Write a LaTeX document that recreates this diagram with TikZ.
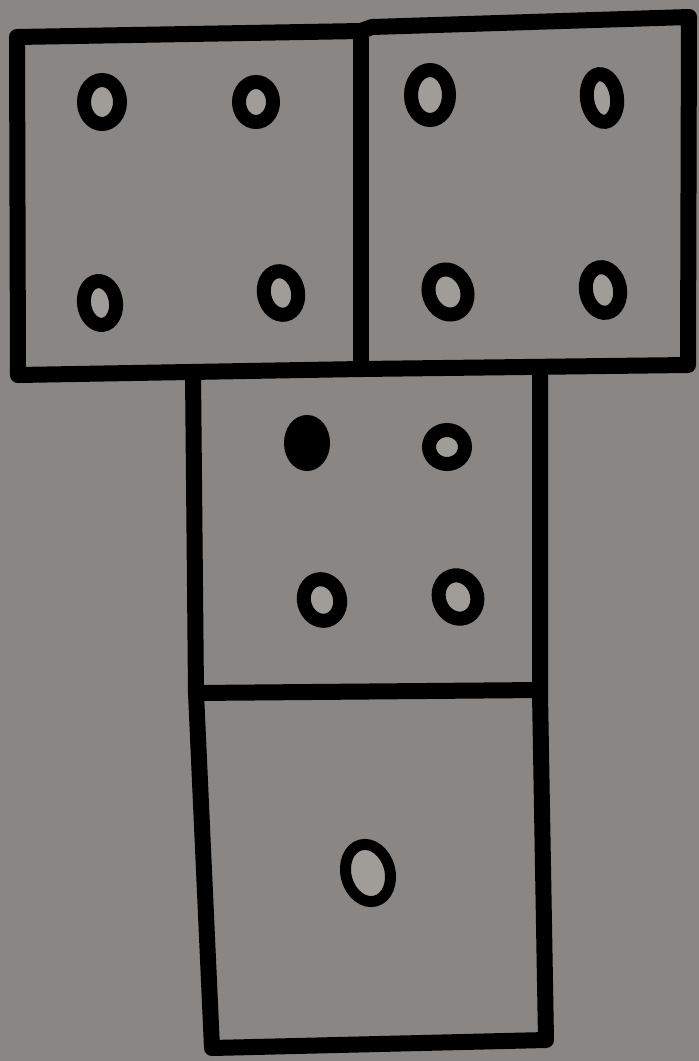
\documentclass[tikz,border=0pt]{standalone}
\usetikzlibrary{calc}
\definecolor{paper}{RGB}{137,134,131}
\definecolor{dotin}{RGB}{160,156,152}
\tikzset{
  frame/.style={draw=black,line width=16pt,line join=round,line cap=round},
  pip/.style={draw=black,line width=14pt,fill=dotin},
  solidpip/.style={draw=black,line width=14pt,fill=black}
}
\begin{document}
\begin{tikzpicture}[x=1pt,y=-1pt]
\fill[paper] (0,0) rectangle (699,1061);
\useasboundingbox (0,0) rectangle (699,1061);
% top pair of faces
\draw[frame] (17,37) -- (361,31) -- (372,27) -- (689,17) -- (688,365) -- (361,369) -- (18,375) -- cycle;
\draw[frame] (361,31) -- (361,369);
% column of faces
\draw[frame] (193,373) -- (196,693) -- (212,1048) -- (546,1040) -- (540,693) -- (540,371);
\draw[frame] (196,693) -- (540,690);
% pips, top-left face
\draw[pip] (102,102) ellipse[x radius=18,y radius=22];
\draw[pip] (256,102) ellipse[x radius=17,y radius=20];
\draw[pip,rotate around={8:(100,303)}] (100,303) ellipse[x radius=16,y radius=22];
\draw[pip,rotate around={12:(281,293)}] (281,293) ellipse[x radius=17,y radius=22];
% pips, top-right face
\draw[pip] (430,95) ellipse[x radius=19,y radius=25];
\draw[pip,rotate around={8:(602,98)}] (602,98) ellipse[x radius=15,y radius=24];
\draw[pip,rotate around={20:(448,292)}] (448,292) ellipse[x radius=19,y radius=23];
\draw[pip,rotate around={10:(603,290)}] (603,290) ellipse[x radius=17,y radius=23];
% pips, middle face
\draw[solidpip] (307,443) ellipse[x radius=16,y radius=21];
\draw[pip] (447,447) ellipse[x radius=18,y radius=17];
\draw[pip,rotate around={15:(322,600)}] (322,600) ellipse[x radius=18,y radius=21];
\draw[pip,rotate around={20:(458,597)}] (458,597) ellipse[x radius=19,y radius=22];
% pip, bottom face
\draw[pip,line width=11pt,rotate around={15:(368,873)}] (368,873) ellipse[x radius=22,y radius=29];
\end{tikzpicture}
\end{document}
